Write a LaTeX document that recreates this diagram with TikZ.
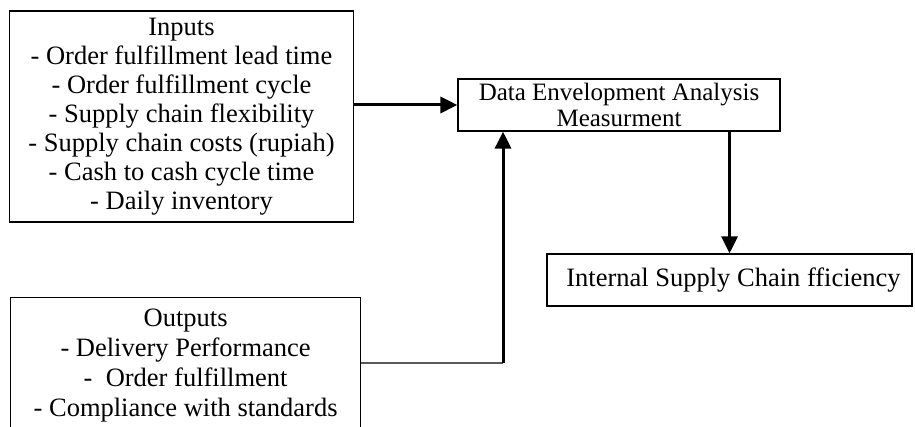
\documentclass[tikz,border=0pt]{standalone}
\usepackage{fontspec}
\setmainfont{Liberation Serif}
\usetikzlibrary{positioning, arrows.meta}

\begin{document}
\begin{tikzpicture}[x=1pt, y=-1pt,
    box/.style={draw, line width=1.2pt, inner sep=0pt, align=center, font=\fontsize{26.5}{29}\selectfont},
    arr/.style={line width=3pt, -{Triangle[length=17pt, width=16pt]}}]
    % Frame
    \useasboundingbox (0,0) rectangle (915,427);
    \clip (0,0) rectangle (915,427);

    % Boxes
    \node[box, minimum width=344pt, minimum height=211pt] (inputs) at (181.5,116.5)
        {Inputs\\ - Order fulfillment lead time\\ - Order fulfillment cycle\\ - Supply chain flexibility\\
         - Supply chain costs (rupiah)\\ - Cash to cash cycle time\\ - Daily inventory};
    \node[box, anchor=north west, minimum width=350pt, minimum height=136pt,
          font=\fontsize{26.5}{30}\selectfont] (outputs) at (10,297)
        {Outputs\\ - Delivery Performance\\ -\ \ Order fulfillment\\ - Compliance with standards};
    \node[box, minimum width=322pt, minimum height=52pt, font=\fontsize{25}{26}\selectfont] (dea) at (619,105)
        {Data Envelopment Analysis\\ Measurment};
    \node[box, minimum width=365pt, minimum height=52pt] (internal) at (729.5,280)
        {\hspace{8pt}Internal Supply Chain fficiency};

    % Connectors
    \coordinate (bend) at (503,363);
    \draw[arr] (inputs.east |- dea.west) -- (dea.west);
    \draw[line width=1.2pt, gray!70!black] (outputs.east |- bend) -- (bend);
    \draw[arr] (bend) -- (bend |- dea.south);
    \draw[arr] (dea.south -| internal.north) -- (internal.north);
\end{tikzpicture}
\end{document}
